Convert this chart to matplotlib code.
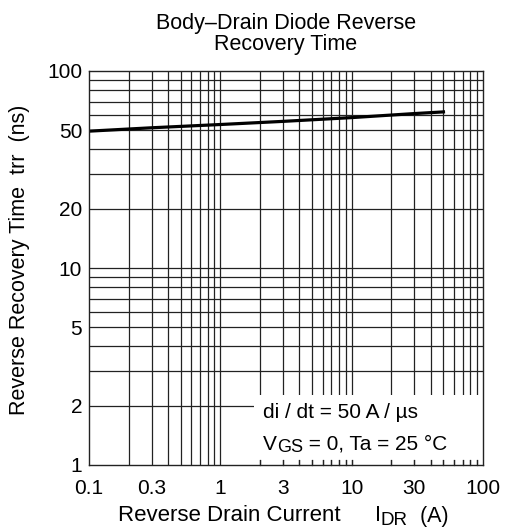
import matplotlib
matplotlib.use("Agg")
import matplotlib.pyplot as plt
from matplotlib.ticker import FixedLocator, NullFormatter, FixedFormatter
from matplotlib.patches import Rectangle

plt.rcParams['font.family'] = ['Liberation Sans', 'DejaVu Sans']

# data
current = [0.1, 0.3, 1, 3, 10, 30, 50]
trr = [49.5, 51.5, 53.5, 55.5, 58.0, 60.8, 62.0]
xticks = [0.1, 0.3, 1, 3, 10, 30, 100]
xticklabels = ['0.1', '0.3', '1', '3', '10', '30', '100']
yticks = [1, 2, 5, 10, 20, 50, 100]
yticklabels = ['1', '2', '5', '10', '20', '50', '100']

W, H = 508, 529
fig = plt.figure(figsize=(W/100, H/100), dpi=100)
ax = fig.add_axes([89/W, 1-465/H, (483-89)/W, (465-71)/H])
ax.set_xscale('log')
ax.set_yscale('log')
ax.set_xlim(0.1, 100)
ax.set_ylim(1, 100)

# grid lines at every 1..9 per decade
grid_x = [m * 10.0**e for e in (-1, 0, 1) for m in range(1, 10)]
grid_y = [m * 10.0**e for e in (0, 1) for m in range(1, 10)]
for gx in grid_x[1:]:
    ax.axvline(gx, color='#222222', lw=0.9, zorder=1)
for gy in grid_y[1:]:
    ax.axhline(gy, color='#222222', lw=0.9, zorder=1)

ax.plot(current, trr, color='black', lw=2.3, zorder=3)

# annotation box region (white)
ax.add_patch(Rectangle((1.82, 1.06), 100, 1.21, transform=ax.transData,
                       facecolor='white', edgecolor='none', zorder=2))
# inward small ticks under the box
for gx in grid_x:
    if gx > 1.85 and gx < 100:
        ax.plot([gx, gx], [1.0, 1.06], color='#222222', lw=0.9, zorder=2.5,
                clip_on=False)


def px(x, y):
    """pixel coords from top-left -> figure fraction"""
    return x / W, 1 - y / H


def runs(x, y, parts, zorder=4):
    """parts: (text, fontsize, drop_px); placed one after another."""
    prev = None
    prev_size = None
    prev_drop = 0
    for s, size, drop in parts:
        if prev is None:
            fx, fy = px(x, y + drop)
            t = fig.text(fx, fy, s, fontsize=size, ha='left', va='baseline',
                         zorder=zorder)
        else:
            desc = 0.21 * prev_size * 100 / 72
            t = ax.annotate(s, xy=(1, 0), xycoords=prev,
                            xytext=(0, desc - (drop - prev_drop)),
                            textcoords='offset pixels', fontsize=size,
                            ha='left', va='baseline', zorder=zorder,
                            annotation_clip=False)
        prev, prev_size, prev_drop = t, size, drop
    return prev


AFS = 15
runs(263, 418, [('di / dt = 50 A / µs', AFS, 0)])
runs(263, 450, [('V', AFS, 0), ('GS', AFS * 0.87, 2.5),
                (' = 0, Ta = 25 °C', AFS, 0)])

ax.xaxis.set_major_locator(FixedLocator(xticks))
ax.xaxis.set_major_formatter(FixedFormatter(xticklabels))
ax.xaxis.set_minor_locator(FixedLocator([]))
ax.xaxis.set_minor_formatter(NullFormatter())
ax.yaxis.set_major_locator(FixedLocator(yticks))
ax.yaxis.set_major_formatter(FixedFormatter(yticklabels))
ax.yaxis.set_minor_locator(FixedLocator([]))
ax.yaxis.set_minor_formatter(NullFormatter())
ax.tick_params(axis='both', which='both', length=0, labelsize=15)
ax.tick_params(axis='x', pad=10)
ax.tick_params(axis='y', pad=5)

for s in ax.spines.values():
    s.set_linewidth(1.0)
    s.set_color('#222222')
    s.set_zorder(5)

LFS = 15.5
# x axis label
fx, fy = px(118, 521)
fig.text(fx, fy, 'Reverse Drain Current', fontsize=16, ha='left', va='baseline')
runs(375, 521, [('I', LFS, 0), ('DR', LFS * 0.88, 3.5), ('  (A)', LFS, 0)])

# y axis label
fx, fy = px(20, 260)
fig.text(fx, fy, 'Reverse Recovery Time  trr  (ns)', fontsize=LFS,
         rotation=90, ha='center', va='center')

# title
fx, fy = px(286, 29)
fig.text(fx, fy, 'Body\u2013Drain Diode Reverse', ha='center', va='baseline', fontsize=LFS)
fx, fy = px(286, 50)
fig.text(fx, fy, 'Recovery Time', ha='center', va='baseline', fontsize=LFS)

fig.savefig('out.png', dpi=100)
